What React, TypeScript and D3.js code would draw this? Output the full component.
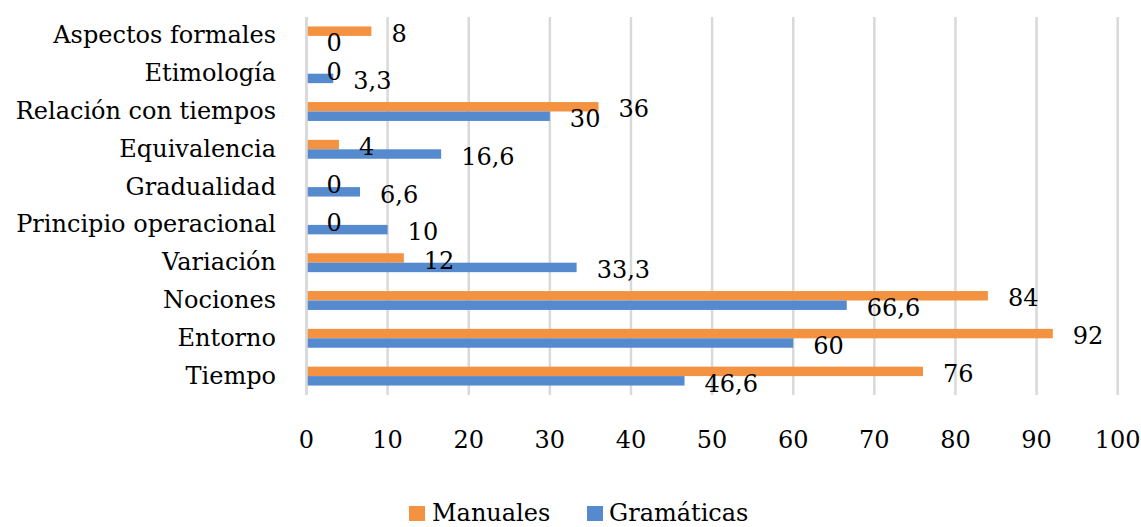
import React from "react";
import * as d3 from "d3";

const categories = [
  "Aspectos formales",
  "Etimología",
  "Relación con tiempos",
  "Equivalencia",
  "Gradualidad",
  "Principio operacional",
  "Variación",
  "Nociones",
  "Entorno",
  "Tiempo",
];

const manuales = [8, 0, 36, 4, 0, 0, 12, 84, 92, 76];
const gramaticas = [0, 3.3, 30, 16.6, 6.6, 10, 33.3, 66.6, 60, 46.6];

const seriesNames = ["Manuales", "Gramáticas"];
const seriesColors = ["#F39341", "#558ACF"];
const xTicks = [0, 10, 20, 30, 40, 50, 60, 70, 80, 90, 100];

const W = 1141;
const H = 527;
const FONT = "'DejaVu Serif', serif";
const FS = 24;

const fmt = (v: number) => String(v).replace(".", ",");

export default function App() {
  const x = d3.scaleLinear().domain([0, 100]).range([306.5, 1117.7]);
  const y = d3
    .scaleBand<string>()
    .domain(categories)
    .range([17, 395])
    .paddingInner(0.5)
    .paddingOuter(0.25);
  const sub = d3
    .scaleBand<string>()
    .domain(seriesNames)
    .range([0, y.bandwidth()]);

  const series = [manuales, gramaticas];

  return (
    <svg
      width={W}
      height={H}
      style={{ position: "absolute", left: 0, top: 0, background: "#fff" }}
      fontFamily={FONT}
    >
      {/* vertical gridlines */}
      {xTicks.map((t) => (
        <line
          key={"g" + t}
          x1={x(t)}
          x2={x(t)}
          y1={17}
          y2={395}
          stroke="#D9D9D9"
          strokeWidth={2.5}
        />
      ))}

      {/* bars */}
      {series.map((vals, si) =>
        vals.map((v, i) => (
          <rect
            key={`b${si}-${i}`}
            x={x(0)}
            y={(y(categories[i]) as number) + (sub(seriesNames[si]) as number)}
            width={x(v) - x(0)}
            height={sub.bandwidth()}
            fill={seriesColors[si]}
          />
        ))
      )}

      {/* zero axis line */}
      <line x1={x(0)} x2={x(0)} y1={17} y2={395} stroke="#D9D9D9" strokeWidth={2.5} />

      {/* value labels */}
      {series.map((vals, si) =>
        vals.map((v, i) => (
          <text
            key={`l${si}-${i}`}
            x={x(v) + 20}
            y={
              (y(categories[i]) as number) +
              (sub(seriesNames[si]) as number) +
              sub.bandwidth() / 2 +
              10.7
            }
            fontSize={FS}
            fill="#000"
          >
            {fmt(v)}
          </text>
        ))
      )}

      {/* category labels */}
      {categories.map((c) => (
        <text
          key={"c" + c}
          x={276}
          y={(y(c) as number) + y.bandwidth() / 2 + 7.5}
          textAnchor="end"
          fontSize={FS}
          fill="#000"
        >
          {c}
        </text>
      ))}

      {/* x tick labels */}
      {xTicks.map((t) => (
        <text
          key={"t" + t}
          x={x(t)}
          y={448.3}
          textAnchor="middle"
          fontSize={FS}
          fill="#000"
        >
          {t}
        </text>
      ))}

      {/* legend */}
      {[
        { sx: 409, tx: 432 },
        { sx: 587, tx: 609 },
      ].map((p, i) => (
        <g key={"lg" + i}>
          <rect x={p.sx} y={506} width={16} height={15} fill={seriesColors[i]} />
          <text x={p.tx} y={521} fontSize={FS} fill="#000">
            {seriesNames[i]}
          </text>
        </g>
      ))}
    </svg>
  );
}
